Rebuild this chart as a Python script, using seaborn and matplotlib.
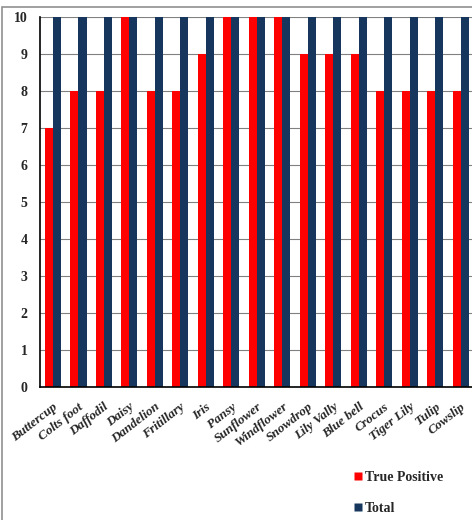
import numpy as np
import pandas as pd
import matplotlib
matplotlib.use('Agg')
from matplotlib import pyplot as plt
from matplotlib.patches import Rectangle
import seaborn as sns

flowers = ['Buttercup', 'Colts foot', 'Daffodil', 'Daisy', 'Dandelion', 'Fritillary',
           'Iris', 'Pansy', 'Sunflower', 'Windflower', 'Snowdrop', 'Lily Vally',
           'Blue bell', 'Crocus', 'Tiger Lily', 'Tulip', 'Cowslip']
true_positive = [7, 8, 8, 10, 8, 8, 9, 10, 10, 10, 9, 9, 9, 8, 8, 8, 8]
total = [10, 10, 10, 10, 10, 10, 10, 10, 10, 10, 10, 10, 10, 10, 10, 10, 10]
series = ['True Positive', 'Total']
colors = ['#FF0000', '#17365D']

sns.set_theme(style='white')
plt.rcParams['font.family'] = ['Liberation Serif', 'DejaVu Serif']

df = pd.DataFrame({
    'Flower': flowers * 2,
    'Count': true_positive + total,
    'Series': [series[0]] * len(flowers) + [series[1]] * len(flowers),
})

fig = plt.figure(figsize=(4.72, 5.2), dpi=100)
ax = fig.add_axes([0.085, 0.256, 0.918, 0.711])

sns.barplot(data=df, x='Flower', y='Count', hue='Series', order=flowers,
            hue_order=series, palette=colors, width=0.64, saturation=1,
            edgecolor='none', ax=ax, legend=False)

ax.set_ylim(0, 10)
ax.set_xlim(-0.5, len(flowers) - 0.5)
ax.set_yticks(range(0, 11))
ax.yaxis.grid(True, color='#808080', linewidth=0.8)
ax.set_axisbelow(True)
ax.set_xlabel('')
ax.set_ylabel('')

for s in ['top', 'right']:
    ax.spines[s].set_visible(False)
for s in ['left', 'bottom']:
    ax.spines[s].set_color('black')
    ax.spines[s].set_linewidth(1.2)

ax.tick_params(axis='y', direction='out', length=4, width=1, color='black',
               labelsize=10, pad=5)
for lbl in ax.get_yticklabels():
    lbl.set_fontweight('bold')

ax.set_xticks(np.arange(len(flowers)))
ax.set_xticklabels(flowers, rotation=38, ha='right', rotation_mode='anchor',
                   fontsize=9.5, fontstyle='italic', fontweight='bold')
ax.tick_params(axis='x', which='major', length=0, pad=10)
ax.set_xticks(np.arange(len(flowers) + 1) - 0.5, minor=True)
ax.tick_params(axis='x', which='minor', direction='out', length=4, width=1, color='black')

# legend at lower right
handles = [plt.Line2D([], [], marker='s', linestyle='none', markersize=6,
                      markerfacecolor=c, markeredgecolor='none') for c in colors]
fig.legend(handles, series, loc='upper left', bbox_to_anchor=(0.72, 0.118),
           frameon=False, handletextpad=0.1, labelspacing=1.3,
           prop={'weight': 'bold', 'size': 10}, handlelength=0.8)

# light frame around the figure
fig.patches.append(Rectangle((0.004, -0.01), 1.1, 0.997, transform=fig.transFigure,
                             fill=False, edgecolor='#909090', linewidth=1.2))

fig.savefig('out.png', dpi=100)
